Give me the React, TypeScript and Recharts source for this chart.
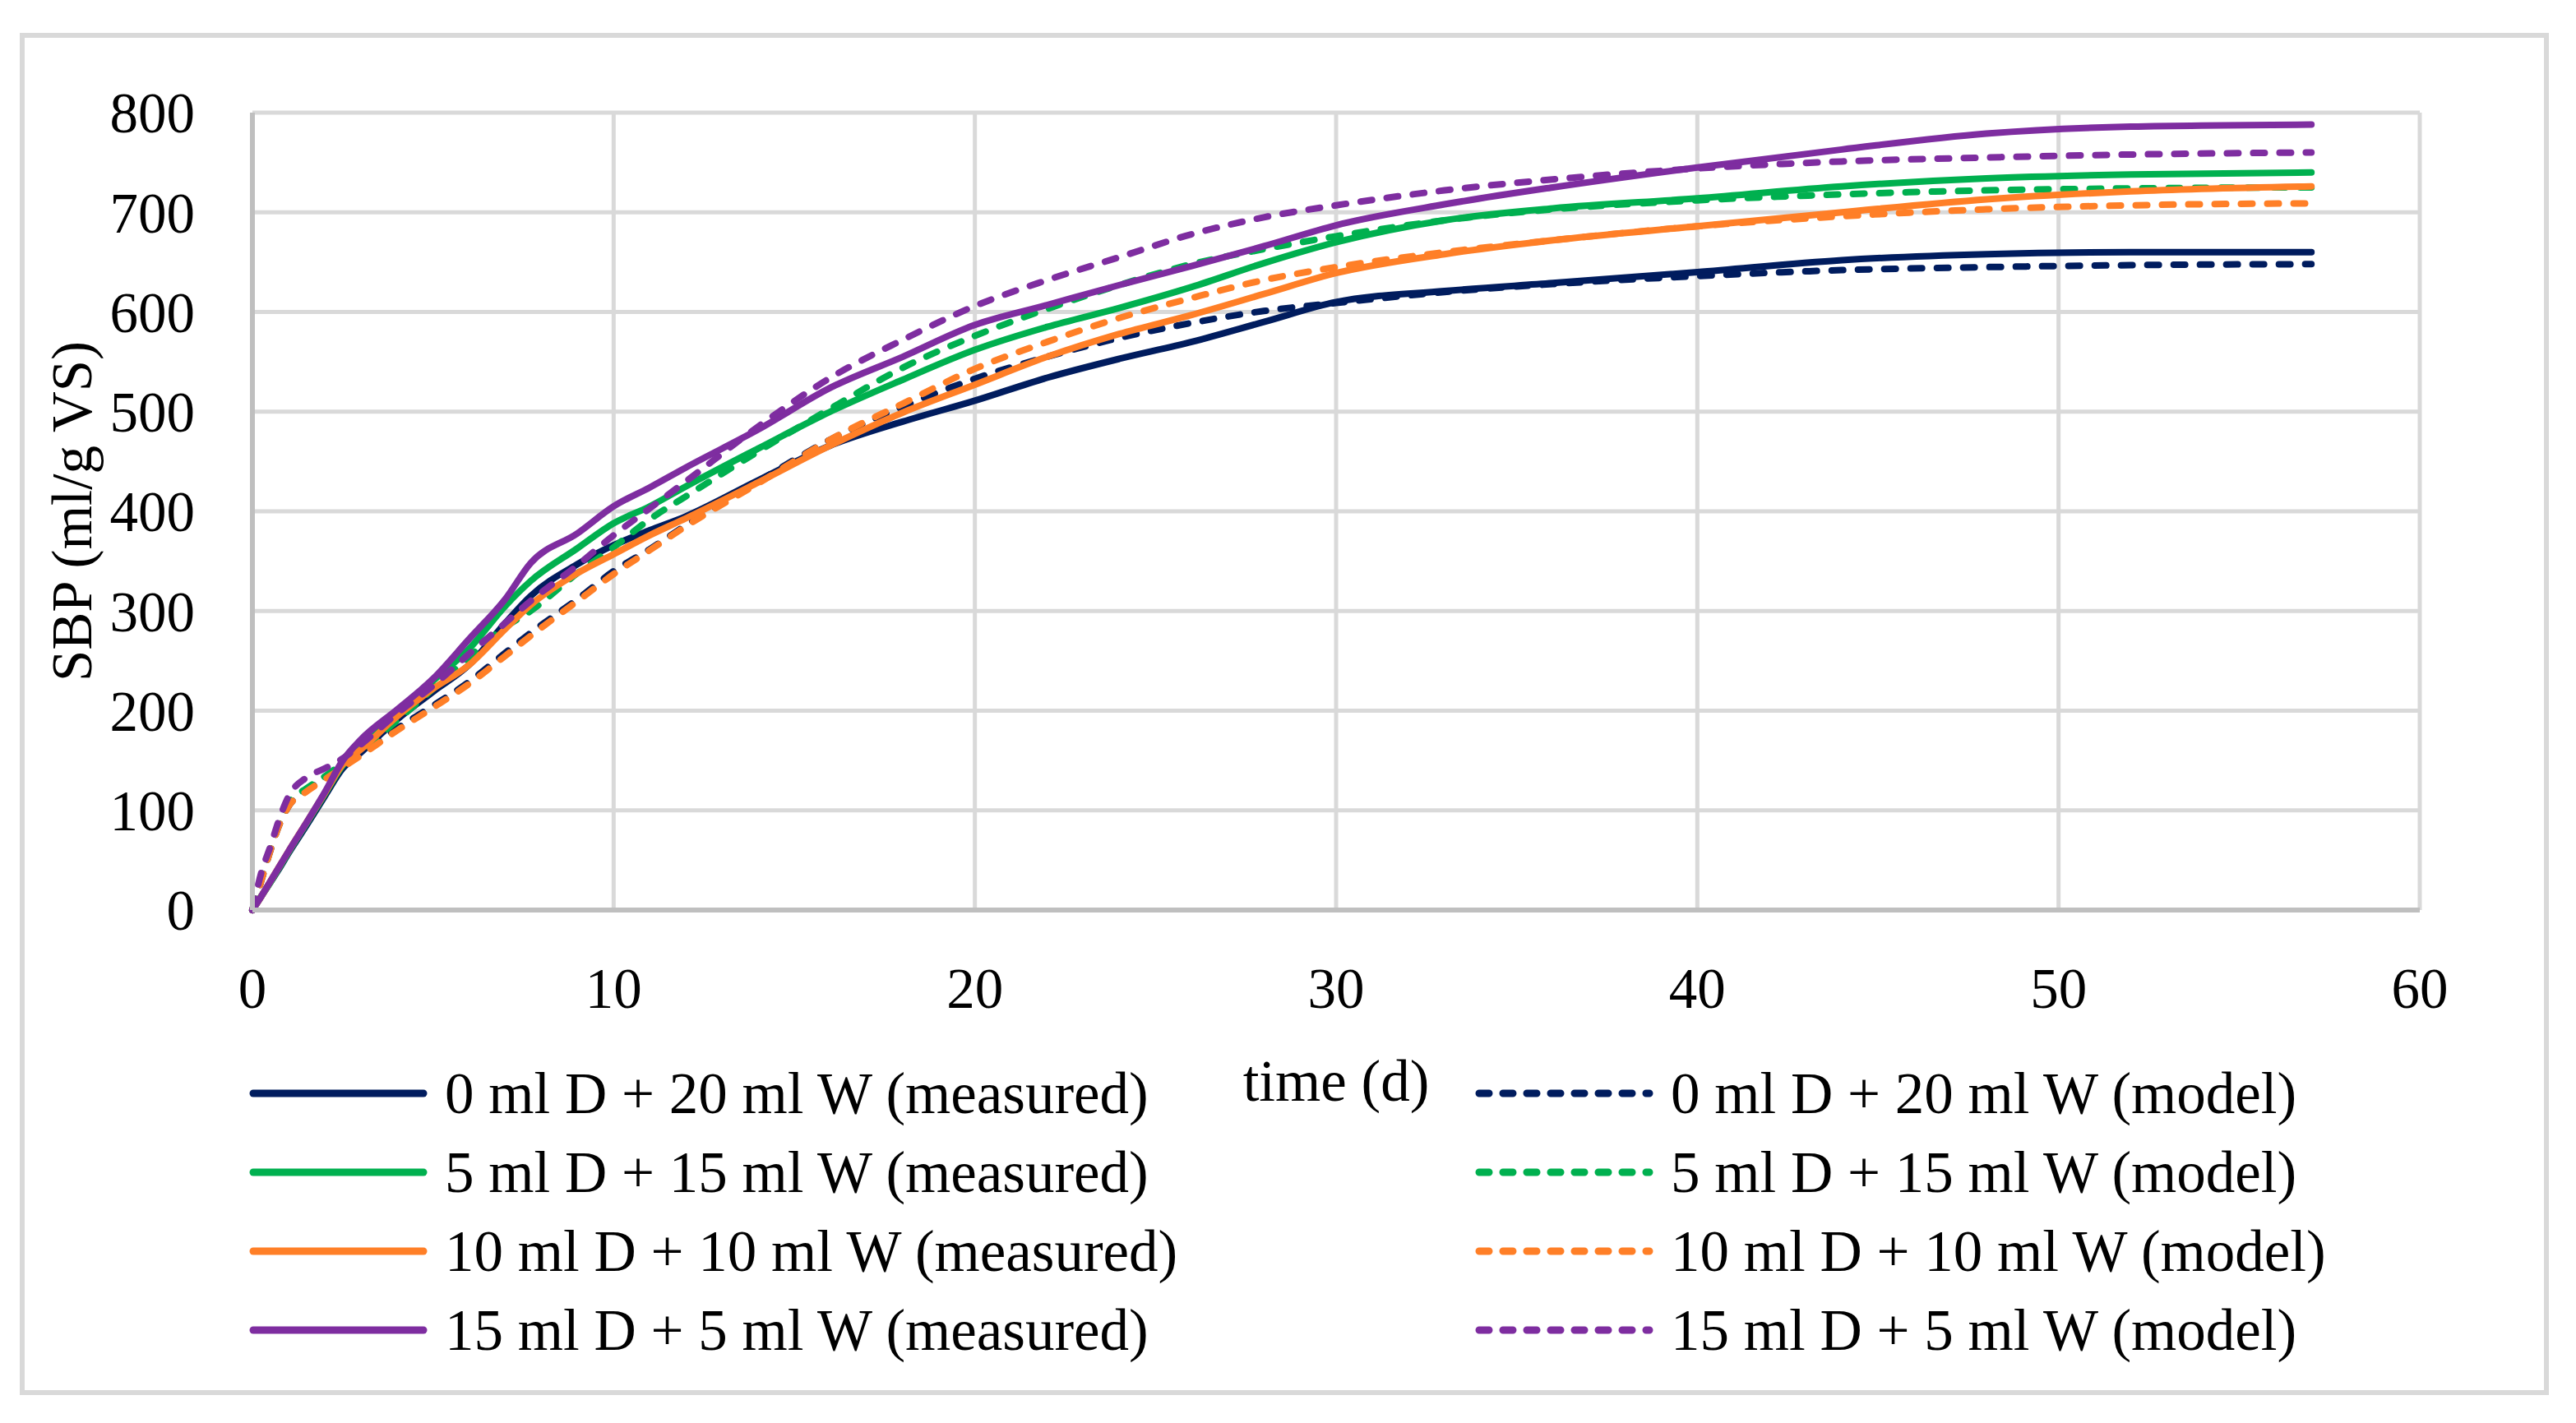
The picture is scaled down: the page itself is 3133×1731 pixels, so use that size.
import { CartesianGrid, Line, LineChart, XAxis, YAxis } from 'recharts'

// Sampling days shared by all curves (d)
const days = [
  0, 0.25, 0.5, 0.75, 1, 1.5, 2, 2.5, 3, 4, 5, 6, 7, 7.7, 9, 10, 11, 12, 14, 16, 18, 20, 22, 24, 26,
  28, 30, 33, 36, 40, 44, 48, 52, 57,
]

// SBP (ml/g VS)
const m0 = [
  0, 14, 28, 42, 57, 85, 114, 142, 158, 191, 219, 246, 288, 315, 347, 366, 381, 395, 431, 466, 490,
  511, 534, 553, 570, 590, 610, 621, 629, 640, 652, 658, 660, 660,
]
const d0 = [
  0, 30, 60, 86, 104, 120, 132, 145, 157, 182, 205, 229, 258, 278, 312, 340, 362, 386, 430, 472, 505,
  533, 555, 574, 589, 601, 609, 620, 628, 636, 642, 645, 647, 648,
]
const m5 = [
  0, 14, 28, 43, 58, 87, 116, 145, 162, 197, 230, 262, 305, 330, 363, 388, 405, 425, 463, 500, 532,
  562, 585, 604, 625, 649, 670, 692, 704, 714, 726, 734, 738, 740,
]
const d5 = [
  0, 32, 62, 88, 107, 122, 134, 147, 160, 190, 222, 254, 284, 300, 338, 364, 392, 415, 460, 503, 544,
  576, 603, 627, 648, 663, 676, 692, 703, 712, 718, 722, 724, 725,
]
const m10 = [
  0, 14, 29, 44, 59, 88, 117, 146, 161, 194, 222, 246, 282, 306, 338, 357, 376, 393, 429, 466, 499,
  527, 555, 578, 597, 618, 639, 658, 672, 686, 700, 713, 721, 726,
]
const d10 = [
  0, 30, 60, 86, 104, 119, 131, 143, 155, 180, 203, 227, 255, 275, 310, 337, 361, 385, 428, 472, 508,
  543, 570, 594, 614, 632, 645, 660, 672, 686, 696, 703, 707, 709,
]
const m15 = [
  0, 14, 29, 44, 59, 88, 118, 150, 171, 201, 232, 272, 312, 348, 378, 405, 424, 444, 482, 524, 555,
  587, 607, 627, 646, 666, 687, 708, 725, 745, 763, 779, 786, 788,
]
const d15 = [
  0, 38, 64, 92, 114, 133, 142, 152, 166, 197, 225, 257, 288, 310, 346, 376, 403, 430, 485, 534, 572,
  606, 632, 655, 678, 695, 707, 722, 733, 744, 751, 755, 758, 760,
]

const xTicks = [0, 10, 20, 30, 40, 50, 60]
const yTicks = [0, 100, 200, 300, 400, 500, 600, 700, 800]

const NAVY = '#001C5E'
const GREEN = '#00B04F'
const ORANGE = '#FF7F27'
const PURPLE = '#7E2DA0'

// legend order = series order (row by row, measured then model)
const series = [
  { key: 'm0', values: m0, color: NAVY, dashed: false, name: '0 ml D + 20 ml W (measured)' },
  { key: 'd0', values: d0, color: NAVY, dashed: true, name: '0 ml D + 20 ml W (model)' },
  { key: 'm5', values: m5, color: GREEN, dashed: false, name: '5 ml D + 15 ml W (measured)' },
  { key: 'd5', values: d5, color: GREEN, dashed: true, name: '5 ml D + 15 ml W (model)' },
  { key: 'm10', values: m10, color: ORANGE, dashed: false, name: '10 ml D + 10 ml W (measured)' },
  { key: 'd10', values: d10, color: ORANGE, dashed: true, name: '10 ml D + 10 ml W (model)' },
  { key: 'm15', values: m15, color: PURPLE, dashed: false, name: '15 ml D + 5 ml W (measured)' },
  { key: 'd15', values: d15, color: PURPLE, dashed: true, name: '15 ml D + 5 ml W (model)' },
]

const chartData = days.map((d, i) => {
  const row: Record<string, number> = { day: d }
  for (const s of series) row[s.key] = s.values[i]
  return row
})

const FONT = '"Liberation Serif", "Times New Roman", serif'
const DASH = '14 18'

export default function App() {
  return (
    <div
      style={{
        position: 'absolute',
        left: 0,
        top: 0,
        width: 3133,
        height: 1731,
        background: '#fff',
        fontFamily: FONT,
      }}
    >
      {/* outer chart frame */}
      <div
        style={{
          position: 'absolute',
          left: 24,
          top: 40,
          width: 3076,
          height: 1657,
          border: '6px solid #d9d9d9',
          boxSizing: 'border-box',
        }}
      />
      <div style={{ position: 'absolute', left: 0, top: 0 }}>
        <LineChart
          width={3133}
          height={1731}
          data={chartData}
          margin={{ top: 137, right: 190, bottom: 384, left: 7 }}
        >
          <CartesianGrid stroke="#d9d9d9" strokeWidth={5} />
          <XAxis
            dataKey="day"
            type="number"
            domain={[0, 60]}
            ticks={xTicks}
            height={240}
            axisLine={{ stroke: '#bfbfbf', strokeWidth: 6 }}
            tickLine={false}
            tickSize={6}
            tickMargin={64}
            tick={{ fill: '#000', fontSize: 69, fontFamily: FONT }}
            label={{
              value: 'time (d)',
              position: 'insideBottom',
              offset: 8,
              fill: '#000',
              fontSize: 71,
              fontFamily: FONT,
            }}
          />
          <YAxis
            type="number"
            domain={[0, 800]}
            ticks={yTicks}
            width={300}
            axisLine={{ stroke: '#bfbfbf', strokeWidth: 6 }}
            tickLine={false}
            tickSize={6}
            tickMargin={64}
            tick={{ fill: '#000', fontSize: 69, fontFamily: FONT }}
            label={{
              value: 'SBP (ml/g VS)',
              angle: -90,
              position: 'insideLeft',
              offset: 80,
              fill: '#000',
              fontSize: 69,
              fontFamily: FONT,
              style: { textAnchor: 'middle' },
            }}
          />
          {series.map((s) => (
            <Line
              key={s.key}
              dataKey={s.key}
              type="monotone"
              stroke={s.color}
              strokeWidth={8}
              strokeDasharray={s.dashed ? DASH : undefined}
              strokeLinecap="round"
              dot={false}
              activeDot={false}
              isAnimationActive={false}
            />
          ))}
        </LineChart>
      </div>
      {/* legend: two columns, four rows */}
      <div
        style={{
          position: 'absolute',
          left: 303,
          top: 1282,
          display: 'grid',
          gridTemplateColumns: '1491px auto',
          gridAutoRows: '96px',
        }}
      >
        {series.map((s) => (
          <div key={s.key} style={{ display: 'flex', alignItems: 'center' }}>
            <svg width={217} height={20} style={{ display: 'block' }}>
              <line
                x1={5}
                y1={10}
                x2={212}
                y2={10}
                stroke={s.color}
                strokeWidth={9}
                strokeLinecap="round"
                strokeDasharray={s.dashed ? '12 17' : undefined}
              />
            </svg>
            <span
              style={{
                marginLeft: 21,
                fontSize: 71,
                lineHeight: '96px',
                color: '#000',
                whiteSpace: 'nowrap',
              }}
            >
              {s.name}
            </span>
          </div>
        ))}
      </div>
    </div>
  )
}
